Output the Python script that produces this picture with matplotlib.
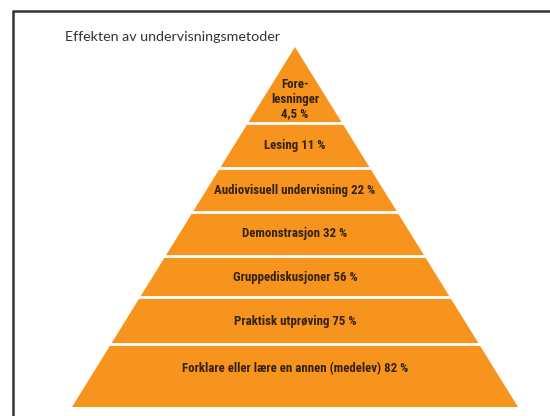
import matplotlib
matplotlib.use("Agg")
import matplotlib.pyplot as plt
from matplotlib.patches import Polygon
from matplotlib import font_manager

# ---- data ----
title = "Effekten av undervisningsmetoder"
methods = ["Fore-\nlesninger", "Lesing", "Audiovisuell undervisning", "Demonstrasjon",
           "Gruppediskusjoner", "Praktisk utprøving", "Forklare eller lære en annen (medelev)"]
values = [4.5, 11, 22, 32, 56, 75, 82]

# ---- layout (pixels) ----
W, H = 550, 416
apex_x, apex_y = 295, 47
base_y, base_half = 407, 223
bounds = [123.5, 168.5, 212.5, 256.5, 297.5, 344.5]
gap = 2.8
label_y = [99, 146, 190.5, 234, 277, 321, 369]
orange = "#F7941D"
text_col = "#33220f"

avail = {f.name for f in font_manager.fontManager.ttflist}
def pick(*names):
    for n in names:
        if n in avail:
            return n
    return "DejaVu Sans"
label_font = pick("Liberation Sans Narrow", "Roboto Condensed", "Open Sans Condensed", "Roboto")
title_font = pick("Lato", "Open Sans", "Noto Sans")

fig = plt.figure(figsize=(W / 100, H / 100), dpi=100)
ax = fig.add_axes([0, 0, 1, 1])
ax.set_xlim(0, W)
ax.set_ylim(H, 0)
ax.axis("off")

slope = base_half / (base_y - apex_y)
def half(y):
    return slope * (y - apex_y)

edges = [apex_y] + bounds + [base_y]
for i in range(len(values)):
    top = edges[i] + (gap / 2 if i > 0 else 0)
    bot = edges[i + 1] - (gap / 2 if i < len(values) - 1 else 0)
    pts = [(apex_x - half(top), top), (apex_x + half(top), top),
           (apex_x + half(bot), bot), (apex_x - half(bot), bot)]
    ax.add_patch(Polygon(pts, closed=True, facecolor=orange, edgecolor="none"))

def fmt(v):
    s = ("%g" % v).replace(".", ",")
    return s + " %"

texts = []
for i, (m, v) in enumerate(zip(methods, values)):
    sep = "\n" if "\n" in m else " "
    t = ax.text(apex_x, label_y[i], m + sep + fmt(v), ha="center", va="center",
                fontsize=9, fontweight="bold", color=text_col, family=label_font,
                linespacing=1.12)
    texts.append(t)

tt = ax.text(65, 37, title, ha="left", va="center", fontsize=9, color="#333333",
             family=title_font)

# fit font sizes to the measured widths
fig.canvas.draw()
r = fig.canvas.get_renderer()
def fit(t, target):
    w = t.get_window_extent(r).width
    return t.get_fontsize() * target / w
fs = fit(texts[2], 161)
for t in texts:
    t.set_fontsize(fs)
tt.set_fontsize(fit(tt, 216))

# frame lines (top and left)
ax.plot([12, W], [11, 11], color="#333333", lw=1.8, solid_capstyle="butt")
ax.plot([13, 13], [11, H], color="#333333", lw=1.8, solid_capstyle="butt")

fig.savefig("out.png", dpi=100)
